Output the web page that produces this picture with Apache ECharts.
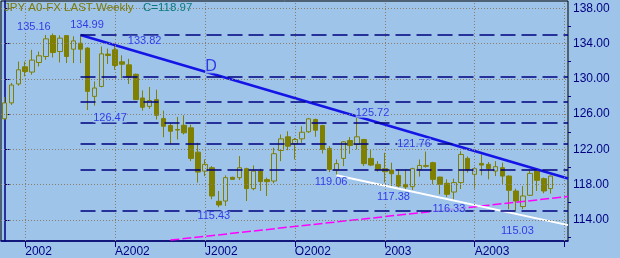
<!DOCTYPE html>
<html><head><meta charset="utf-8">
<script src="https://cdn.jsdelivr.net/npm/echarts@6/dist/echarts.min.js"></script>
<style>html,body{margin:0;padding:0;background:#9ec4ea}#c{width:620px;height:258px}</style>
</head><body><div id="c"></div>
<script>
const weeks = ['12/14/01','12/21/01','12/28/01','01/04/02','01/11/02','01/18/02','01/25/02','02/01/02','02/08/02','02/15/02','02/22/02','03/01/02','03/08/02','03/15/02','03/22/02','03/29/02','04/05/02','04/12/02','04/19/02','04/26/02','05/03/02','05/10/02','05/17/02','05/24/02','05/31/02','06/07/02','06/14/02','06/21/02','06/28/02','07/05/02','07/12/02','07/19/02','07/26/02','08/02/02','08/09/02','08/16/02','08/23/02','08/30/02','09/06/02','09/13/02','09/20/02','09/27/02','10/04/02','10/11/02','10/18/02','10/25/02','11/01/02','11/08/02','11/15/02','11/22/02','11/29/02','12/06/02','12/13/02','12/20/02','12/27/02','01/03/03','01/10/03','01/17/03','01/24/03','01/31/03','02/07/03','02/14/03','02/21/03','02/28/03','03/07/03','03/14/03','03/21/03','03/28/03','04/04/03','04/11/03','04/18/03','04/25/03','05/02/03','05/09/03','05/16/03','05/23/03','05/30/03','06/06/03','06/13/03','06/20/03','06/27/03','07/04/03'];

const opens  = [125.47,127.28,129.43,131.38,130.78,131.87,132.55,134.92,133.11,134.92,133.38,134.06,133.50,128.02,129.15,132.82,133.31,131.95,131.60,130.53,127.84,126.89,127.65,125.50,124.71,124.26,124.74,124.45,121.69,119.54,119.92,116.11,116.14,118.83,118.79,119.81,117.55,119.54,118.57,118.41,121.88,123.43,122.64,123.20,124.00,125.39,124.71,122.11,119.65,120.98,123.01,122.56,123.12,120.98,120.30,119.81,119.65,119.05,118.03,117.77,119.73,120.07,120.49,118.86,118.15,117.16,118.23,120.98,119.17,120.41,120.30,119.54,119.92,118.97,117.28,115.51,116.79,119.54,118.68,117.55];
const closes = [127.28,129.31,131.04,130.85,132.14,132.63,134.55,133.00,134.63,132.55,134.32,133.38,128.59,128.97,132.85,132.66,131.53,131.67,130.22,127.65,126.78,127.54,125.87,124.63,124.06,124.20,123.88,120.98,119.43,120.30,116.71,115.69,118.79,118.60,119.92,117.55,119.54,118.34,118.34,121.51,123.20,122.37,123.12,123.95,125.47,124.18,121.99,119.73,120.38,122.86,122.45,123.43,120.38,120.22,119.73,119.47,119.24,117.84,117.73,119.81,120.18,120.18,118.60,118.03,116.90,118.23,121.43,119.65,119.81,120.22,119.81,120.04,118.97,117.36,116.14,116.71,119.28,118.49,117.28,118.97];
const lows   = [125.39,127.05,129.23,130.29,130.48,131.42,132.17,132.43,131.87,131.80,131.80,131.80,126.47,126.97,129.05,131.70,131.04,130.08,129.43,127.60,126.40,126.60,125.39,123.38,122.64,123.12,123.70,120.67,118.23,118.97,116.34,115.43,115.58,118.55,118.52,116.14,117.36,117.28,116.71,118.15,120.67,121.91,120.86,122.75,123.88,123.43,121.54,119.43,119.06,120.10,121.50,121.99,120.10,120.10,119.47,118.23,117.73,117.66,117.38,117.39,118.91,119.92,118.03,116.90,116.60,116.33,117.50,119.36,117.55,119.05,118.60,118.97,118.03,115.21,115.03,115.21,116.71,117.28,117.02,116.98];
const highs  = [127.95,129.54,131.98,131.98,133.31,133.11,135.00,135.16,134.95,134.90,134.85,134.99,133.60,129.72,133.68,133.45,133.82,132.68,132.29,130.60,128.70,129.09,128.78,126.40,125.01,125.69,125.87,124.82,122.75,120.86,120.10,117.28,119.05,118.90,121.24,119.92,120.18,119.81,118.79,122.19,123.69,124.06,123.30,124.63,125.58,125.50,124.80,122.37,120.86,122.93,123.40,125.72,123.20,121.99,120.67,121.62,120.49,119.73,119.73,119.92,120.86,121.76,120.60,118.90,118.60,118.68,121.80,121.20,120.00,121.43,120.56,120.67,120.50,119.05,117.55,117.84,119.62,119.73,118.80,119.05];

const yTickValues = [114,118,122,126,130,134,138];
const yMinorTicks = [112,116,120,124,128,132,136];
const xTickDates  = ['01/04/02','04/05/02','07/05/02','10/04/02','01/03/03','04/04/03','07/04/03'];
const xTickLabels = ['2002','A2002','J2002','O2002','2003','A2003',''];
const fibLevels = [134.99,130.28,127.37,125.01,122.65,119.74,115.03];
const fibStartWeek = '03/01/02';
const trendD = [[11,134.99],[81.5,118.69]];
const trendWhite = [[48,119.06],[81.5,113.40]];
const trendMagenta = [[24,111.70],[81.5,116.65]];
const noteWeeks = ['02/01/02','03/01/02','04/05/02','03/08/02','12/06/02','02/14/03','11/08/02','01/24/03','03/14/03','07/19/02','05/16/03'];
const noteValues = [135.16,134.99,133.82,126.47,125.72,121.76,119.06,117.38,116.33,115.43,115.03];
const dLabel = {text:'D', week:29.87, value:130.63};
const titleText = 'JPY A0-FX LAST-Weekly';
const closeText = 'C=118.97';

const BG = '#9ec4ea';
const FONT = '"Liberation Sans", Arial, sans-serif';
const NAVY = '#000080';
const BLUE = '#1414e6';
const noteOffsets = [[-19,-7],[6.5,-10],[29.5,-4.5],[22.6,7.5],[15.4,-4],[-12.3,-8],[1.6,7],[-12,7],[-5,10],[-5,9],[1.3,20.4]];

const widx = d => weeks.indexOf(d);
const xTicks = xTickDates.map(widx);
const candleData = opens.map((o,i)=>[o, closes[i], lows[i], highs[i]]);
const fibStart = widx(fibStartWeek);
const XMAX = weeks.length - 0.5;

const notes = noteValues.map((v,i)=>({
  value:[widx(noteWeeks[i]), v], name: v.toFixed(2),
  label:{offset: noteOffsets[i]}
}));
notes.push({value:[dLabel.week, dLabel.value], name:dLabel.text,
  label:{offset:[0,-6.5], fontSize:16, lineHeight:13}});

const chart = echarts.init(document.getElementById('c'));
chart.setOption({
  backgroundColor: BG,
  animation: false,
  title: [
    {text: titleText, left: 4, top: 2, padding: 0, z: 10,
     textStyle:{color:'#7a7a08', fontSize:11.5, fontWeight:'normal', fontFamily:FONT}},
    {text: closeText, left: 143, top: 2, padding: 0, z: 10,
     textStyle:{color:'#087a7a', fontSize:11.5, fontWeight:'normal', fontFamily:FONT}}
  ],
  grid: {left:1, right:52, top:1, bottom:16, show:true, borderColor:'#000', borderWidth:1, backgroundColor:'transparent'},
  xAxis: [
    {type:'category', data: weeks, boundaryGap:true, show:false},
    {type:'value', min:-0.5, max:XMAX, position:'bottom',
     axisLine:{show:true, lineStyle:{color:NAVY, width:1.5}},
     axisTick:{show:true, customValues:xTicks, length:6, lineStyle:{color:NAVY, width:1}},
     axisLabel:{show:true, customValues:xTicks.slice(0,6),
       formatter: v => xTickLabels[xTicks.indexOf(v)],
       align:'left', margin:5, color:NAVY, fontSize:12, fontFamily:FONT},
     splitLine:{show:false}}
  ],
  yAxis: [
    {type:'value', position:'right', min:111.6, max:138.85,
     axisLine:{show:true, lineStyle:{color:NAVY, width:1.5}},
     axisTick:{show:true, customValues:yTickValues, length:5, lineStyle:{color:NAVY}},
     axisLabel:{customValues:yTickValues, formatter: v => Number(v).toFixed(2),
       margin:5, color:NAVY, fontSize:12, fontFamily:FONT},
     splitLine:{show:false}},
    {type:'value', position:'right', min:111.6, max:138.85,
     axisLine:{show:false},
     axisTick:{show:true, customValues:yMinorTicks, length:3, lineStyle:{color:NAVY}},
     axisLabel:{show:false}, splitLine:{show:false}}
  ],
  series: [
    {type:'line', xAxisIndex:1, yAxisIndex:0, data:[], z:1, silent:true,
     markLine:{silent:true, symbol:['none','none'], label:{show:false}, animation:false,
       lineStyle:{type:[1,2], color:'#8a7d6b', width:1},
       data:[...yTickValues.map(v=>({yAxis:v})), ...xTicks.map(v=>({xAxis:v}))]}},
    {type:'line', xAxisIndex:1, yAxisIndex:0, data:[], z:2, silent:true,
     markLine:{silent:true, symbol:['none','none'], label:{show:false}, animation:false,
       lineStyle:{type:[15,6], color:NAVY, width:1.5},
       data: fibLevels.map(v=>[{coord:[fibStart, v]},{coord:[XMAX, v]}])}},
    {type:'candlestick', xAxisIndex:0, yAxisIndex:0, data:candleData, barWidth:5, z:3,
     itemStyle:{color:BG, color0:'#808000', borderColor:'#808000', borderColor0:'#808000', borderWidth:1}},
    {type:'line', xAxisIndex:1, yAxisIndex:0, data:trendMagenta, symbol:'none', z:4,
     lineStyle:{color:'#ff00ff', width:1.5, type:[9,3]}},
    {type:'line', xAxisIndex:1, yAxisIndex:0, data:trendWhite, symbol:'none', z:4,
     lineStyle:{color:'#ffffff', width:2}},
    {type:'line', xAxisIndex:1, yAxisIndex:0, data:trendD, symbol:'none', z:4,
     lineStyle:{color:BLUE, width:2.5}},
    {type:'scatter', xAxisIndex:1, yAxisIndex:0, data:notes, symbolSize:0, z:6,
     itemStyle:{color:'transparent'},
     label:{show:true, position:'inside', formatter:'{b}', color:BLUE, fontSize:11,
       fontFamily:FONT, backgroundColor:BG, padding:0, lineHeight:10}}
  ]
});
</script></body></html>
